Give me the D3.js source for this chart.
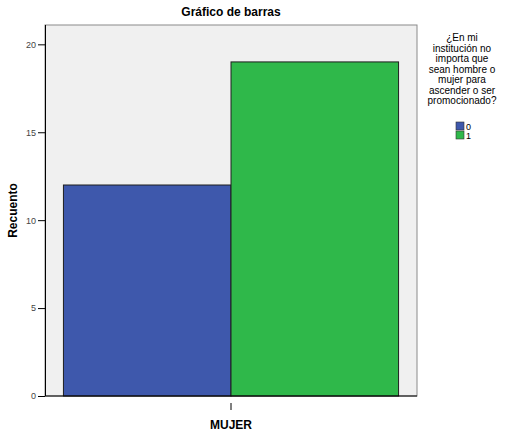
<!DOCTYPE html>
<html>
<head>
<meta charset="utf-8">
<script src="https://cdn.jsdelivr.net/npm/d3@7"></script>
<style>
	body { margin: 0; background: #fff; }
	text { font-family: Arial, "Liberation Sans", sans-serif; }
</style>
</head>
<body>
<div id="chart"></div>
<script>

// data
const categories = ["MUJER"];
const groups = ["0", "1"];
const counts = [12, 19];
const yTicks = [0, 5, 10, 15, 20];
const legendTitle = ["¿En mi", "institución no", "importa que", "sean hombre o", "mujer para", "ascender o ser", "promocionado?"];
const colors = ["#3e58ac", "#2fb84a"];

const width = 507, height = 440;
const margin = {top: 25, right: 90, bottom: 44, left: 45};
const plotW = width - margin.left - margin.right;
const plotH = height - margin.top - margin.bottom;

let svg = d3.select("#chart").append("svg")
	.attr("width", width)
	.attr("height", height);

let g = svg.append("g")
	.attr("transform", "translate(" + margin.left + "," + margin.top + ")");

// scales
let x = d3.scaleBand()
	.domain(categories)
	.range([0, plotW])
	.paddingInner(0)
	.paddingOuter(0.055);

let xSub = d3.scaleBand()
	.domain(groups)
	.range([0, x.bandwidth()]);

let y = d3.scaleLinear()
	.domain([0, 21.1])
	.range([plotH, 0]);

// plot background
g.append("rect")
	.attr("width", plotW)
	.attr("height", plotH)
	.attr("fill", "#f0f0f0")
	.attr("stroke", "#8a8a8a")
	.attr("stroke-width", 1);

// bars
g.selectAll(".bar")
	.data(counts)
	.enter().append("rect")
	.attr("class", "bar")
	.attr("x", (d, i) => x(categories[0]) + xSub(groups[i]))
	.attr("y", d => y(d))
	.attr("width", xSub.bandwidth())
	.attr("height", d => plotH - y(d))
	.attr("fill", (d, i) => colors[i])
	.attr("stroke", "#1e1e1e")
	.attr("stroke-width", 1);

// y axis
let yAxis = g.append("g")
	.call(d3.axisLeft(y).tickValues(yTicks).tickSize(7).tickPadding(2));
yAxis.select(".domain").attr("stroke", "#000").attr("d", "M0.5,0V" + plotH);
yAxis.selectAll("text").attr("font-size", 9).attr("fill", "#444");

// x axis
let xAxis = g.append("g")
	.attr("transform", "translate(0," + (plotH + 7) + ")")
	.call(d3.axisBottom(x).tickSize(7).tickPadding(10));
xAxis.select(".domain").remove();
xAxis.selectAll("text")
	.attr("font-size", 12)
	.attr("font-weight", "bold")
	.attr("fill", "#000");

// x baseline
g.append("line")
	.attr("x1", 0).attr("x2", plotW)
	.attr("y1", plotH).attr("y2", plotH)
	.attr("stroke", "#000");

// title
svg.append("text")
	.attr("x", margin.left + plotW / 2)
	.attr("y", 16)
	.attr("text-anchor", "middle")
	.attr("font-size", 12)
	.attr("font-weight", "bold")
	.text("Gráfico de barras");

// y label
svg.append("text")
	.attr("transform", "translate(17," + (margin.top + plotH / 2) + ") rotate(-90)")
	.attr("text-anchor", "middle")
	.attr("font-size", 12)
	.attr("font-weight", "bold")
	.text("Recuento");

// legend
let legend = svg.append("g")
	.attr("transform", "translate(" + 462 + ",0)");

legend.selectAll(".lt")
	.data(legendTitle)
	.enter().append("text")
	.attr("class", "lt")
	.attr("x", 0)
	.attr("y", (d, i) => 41 + i * 10.5)
	.attr("text-anchor", "middle")
	.attr("font-size", 10)
	.text(d => d);

legend.selectAll(".sw")
	.data(groups)
	.enter().append("rect")
	.attr("class", "sw")
	.attr("x", -6)
	.attr("y", (d, i) => 122 + i * 9)
	.attr("width", 8)
	.attr("height", 8)
	.attr("fill", (d, i) => colors[i])
	.attr("stroke", "#333")
	.attr("stroke-width", 0.6);

legend.selectAll(".sl")
	.data(groups)
	.enter().append("text")
	.attr("class", "sl")
	.attr("x", 4)
	.attr("y", (d, i) => 129.5 + i * 9)
	.attr("font-size", 9)
	.text(d => d);

</script>
</body>
</html>
